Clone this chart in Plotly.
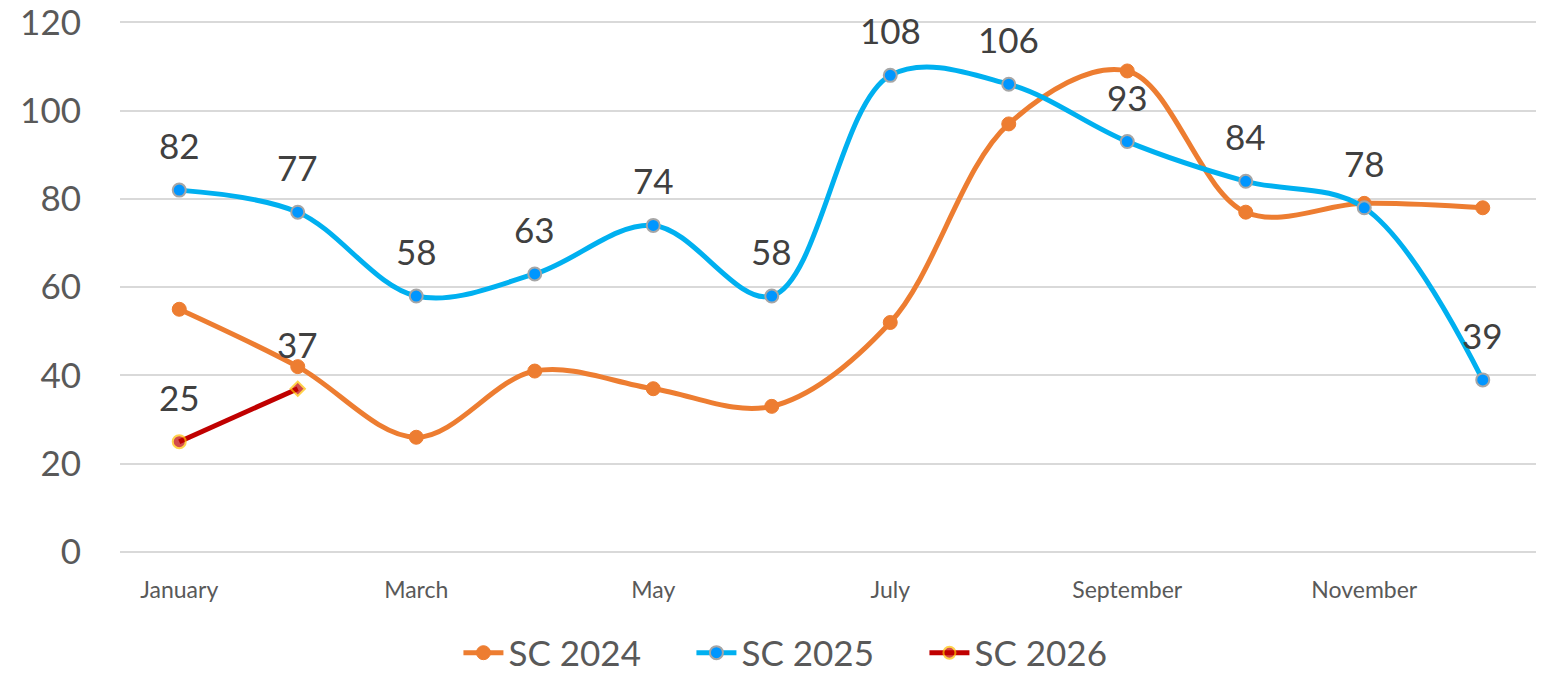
import plotly.graph_objects as go

months = ["January", "February", "March", "April", "May", "June", "July",
          "August", "September", "October", "November", "December"]
tick_months = ["January", "March", "May", "July", "September", "November"]
y_ticks = [0, 20, 40, 60, 80, 100, 120]
sc2024 = [55, 42, 26, 41, 37, 33, 52, 97, 109, 77, 79, 78]
sc2025 = [82, 77, 58, 63, 74, 58, 108, 106, 93, 84, 78, 39]
sc2026 = [25, 37]
months2026 = months[:2]

FONT = "Lato"
fig = go.Figure()
fig.add_trace(go.Scatter(
    x=months, y=sc2024, name="SC 2024", mode="lines+markers",
    line=dict(color="#ED7D31", width=5, shape="spline", smoothing=1),
    marker=dict(color="#ED7D31", size=14, line=dict(color="#ED7D31", width=1)),
))
fig.add_trace(go.Scatter(
    x=months, y=sc2025, name="SC 2025", mode="lines+markers",
    line=dict(color="#00B0F0", width=5, shape="spline", smoothing=1),
    marker=dict(color="#0096FF", size=13, line=dict(color="#A6A6A6", width=2)),
))
fig.add_trace(go.Scatter(
    x=months2026, y=sc2026, name="SC 2026", mode="lines+markers",
    line=dict(color="#C00000", width=5),
    marker=dict(color="#C00000", size=[13, 11], symbol=["circle", "diamond"],
                line=dict(color="#FFC000", width=2)),
))

for m, v in zip(months, sc2025):
    fig.add_annotation(x=m, y=v, text=str(v), showarrow=False, yshift=45,
                       font=dict(family=FONT, size=35, color="#404040"))
for m, v in zip(months2026, sc2026):
    fig.add_annotation(x=m, y=v, text=str(v), showarrow=False, yshift=45,
                       font=dict(family=FONT, size=35, color="#404040"))

fig.update_layout(
    width=1536, height=665,
    margin=dict(l=112, r=2, t=10, b=121, autoexpand=False),
    paper_bgcolor="white", plot_bgcolor="white",
    font=dict(family=FONT, color="#595959"),
    showlegend=True,
    legend=dict(orientation="h", x=0.238, xanchor="left", y=-0.189, yanchor="middle",
                font=dict(family=FONT, size=35, color="#595959"),
                entrywidth=178, entrywidthmode="pixels", itemwidth=40, tracegroupgap=0),
    xaxis=dict(
        type="category", categoryorder="array", categoryarray=months, automargin=False,
        range=[-0.5, 11.5], tickmode="array", tickvals=tick_months, ticktext=tick_months,
        showgrid=False, showline=False, zeroline=False, ticks="",
        tickfont=dict(family=FONT, size=23, color="#595959"), ticklabelstandoff=22,
    ),
    yaxis=dict(
        range=[0, 121], tickmode="array", tickvals=y_ticks, showgrid=True,
        gridcolor="#D9D9D9", gridwidth=2, automargin=False, ticklabeloverflow="allow",
        zeroline=True, zerolinecolor="#D9D9D9", zerolinewidth=2, showline=False, ticks="",
        tickfont=dict(family=FONT, size=35, color="#595959"), ticklabelstandoff=38,
    ),
)
fig.write_html("out.html")
